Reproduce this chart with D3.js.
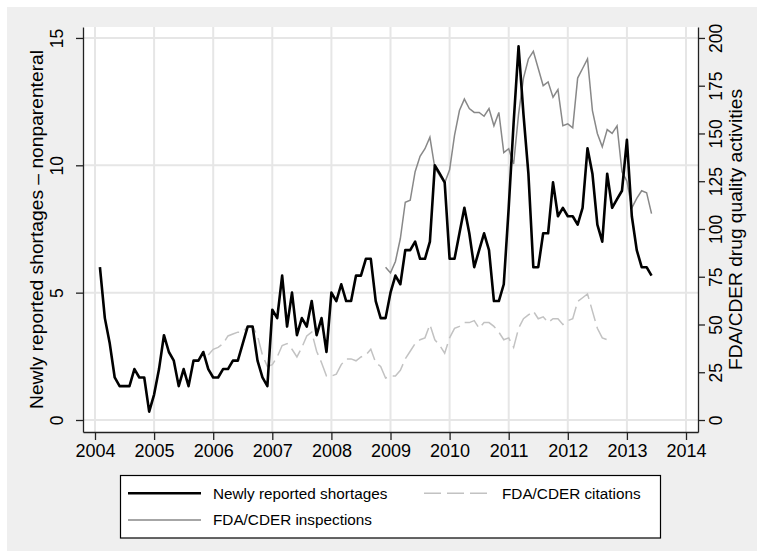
<!DOCTYPE html>
<html>
<head>
<meta charset="utf-8">
<script src="https://cdn.jsdelivr.net/npm/d3@7"></script>
<style>
  html, body { margin: 0; padding: 0; background: #ffffff; }
  svg { display: block; }
  text { font-family: "Liberation Sans", Arial, Helvetica, sans-serif; fill: #000; }
</style>
</head>
<body>
<svg id="chart" width="764" height="558"></svg>
<script>
// Monthly series; each array starts at the [year, month] given alongside it.
const shortagesStart = [2004, 2];
const shortages = [
  6.0, 4.0, 3.0, 1.67, 1.33, 1.33, 1.33, 2.0, 1.67, 1.67, 0.33,
  1.0, 2.0, 3.33, 2.67, 2.33, 1.33, 2.0, 1.33, 2.33, 2.33, 2.67, 2.0,
  1.67, 1.67, 2.0, 2.0, 2.33, 2.33, 3.0, 3.67, 3.67, 2.33, 1.67, 1.33,
  4.33, 4.0, 5.67, 3.67, 5.0, 3.33, 4.0, 3.67, 4.67, 3.33, 4.0, 2.67,
  5.0, 4.67, 5.33, 4.67, 4.67, 5.67, 5.67, 6.33, 6.33, 4.67, 4.0, 4.0,
  5.0, 5.67, 5.33, 6.67, 6.67, 7.0, 6.33, 6.33, 7.0, 10.0, 9.67, 9.33,
  6.33, 6.33, 7.33, 8.33, 7.33, 6.0, 6.67, 7.33, 6.67, 4.67, 4.67, 5.33,
  8.33, 11.67, 14.67, 12.0, 9.67, 6.0, 6.0, 7.33, 7.33, 9.33, 8.0, 8.33,
  8.0, 8.0, 7.67, 8.33, 10.67, 9.67, 7.67, 7.0, 9.67, 8.33, 8.67, 9.0,
  11.0, 8.0, 6.67, 6.0, 6.0, 5.67
];

const citationsStart = [2005, 12];
const citations = [
  34,
  37, 38, 40, 44, 45, 46, 46, 49, 49, 44, 34, 28,
  29, 33, 39, 40, 37, 33, 38, 44, 46, 36, 30, 23,
  23, 24, 29, 32, 32, 31, 33, 34, 37, 30, 28, 22,
  23, 23, 26, 32, 36, 40, 42, 43, 50, 42, 39, 35,
  43, 48, 49, 51, 51, 52, 48, 51, 51, 49, 46, 42,
  43, 38, 48, 53, 55, 57, 53, 54, 51, 53, 53, 50,
  52, 53, 62, 64, 66, 57, 48, 43, 42
];

const inspectionsStart = [2008, 12];
const inspections = [
  80,
  77, 83, 95, 114, 115, 130, 138, 142, 148, 132, 128, 124,
  131, 149, 162, 168, 163, 161, 161, 159, 163, 154, 161, 140,
  142, 134, 160, 179, 189, 193, 184, 175, 177, 169, 173, 154,
  155, 153, 179, 184, 189, 162, 150, 143, 152, 150, 154, 130,
  125, 111, 116, 120, 119, 108
];

const yearTicks = [2004, 2005, 2006, 2007, 2008, 2009, 2010, 2011, 2012, 2013, 2014];
const leftTicks = [0, 5, 10, 15];
const rightTicks = [0, 25, 50, 75, 100, 125, 150, 175, 200];

const leftTitle = "Newly reported shortages \u2013 nonparenteral";
const rightTitle = "FDA/CDER drug quality activities";
const legendLabels = ["Newly reported shortages", "FDA/CDER citations", "FDA/CDER inspections"];

// Convert a start month plus index into a decimal year.
const toSeries = (start, values) =>
  values.map((v, i) => ({ t: start[0] + (start[1] - 1 + i) / 12, v }));

const W = 764, H = 558;
const plot = { left: 83, right: 698, top: 27, bottom: 432 };

const svg = d3.select("#chart");

// Graph region (gray, inset by a thin white margin) and white plot region
svg.append("rect").attr("x", 0).attr("y", 0).attr("width", W).attr("height", H).attr("fill", "#ffffff");
svg.append("rect").attr("x", 7).attr("y", 7).attr("width", W - 14).attr("height", H - 14).attr("fill", "#efefef");
svg.append("rect")
  .attr("x", plot.left).attr("y", plot.top)
  .attr("width", plot.right - plot.left).attr("height", plot.bottom - plot.top)
  .attr("fill", "#ffffff");

const x = d3.scaleLinear().domain([2003.797, 2014.203]).range([plot.left, plot.right]);
const yL = d3.scaleLinear().domain([-0.471, 15.43]).range([plot.bottom, plot.top]);
const yR = d3.scaleLinear().domain([-0.471 * 200 / 15, 15.43 * 200 / 15]).range([plot.bottom, plot.top]);

// Grid lines
const grid = svg.append("g").attr("stroke", "#e6e6e6").attr("stroke-width", 2);
grid.selectAll("line.gx").data(yearTicks).join("line")
  .attr("x1", d => x(d)).attr("x2", d => x(d))
  .attr("y1", plot.top).attr("y2", plot.bottom);
grid.selectAll("line.gy").data(leftTicks).join("line")
  .attr("x1", plot.left).attr("x2", plot.right)
  .attr("y1", d => yL(d)).attr("y2", d => yL(d));

// Axes
const tickFont = 17.5;
const xAxis = svg.append("g").attr("transform", `translate(0,${plot.bottom})`)
  .call(d3.axisBottom(x).tickValues(yearTicks).tickFormat(d3.format("d")).tickSize(8).tickSizeOuter(0));
const lAxis = svg.append("g").attr("transform", `translate(${plot.left},0)`)
  .call(d3.axisLeft(yL).tickValues(leftTicks).tickSize(7).tickSizeOuter(0));
const rAxis = svg.append("g").attr("transform", `translate(${plot.right},0)`)
  .call(d3.axisRight(yR).tickValues(rightTicks).tickSize(7).tickSizeOuter(0));

[xAxis, lAxis, rAxis].forEach(g => {
  g.select(".domain").attr("stroke", "#222").attr("stroke-width", 1.3);
  g.selectAll(".tick line").attr("stroke", "#222").attr("stroke-width", 1.3);
  g.selectAll(".tick text").attr("font-size", tickFont).attr("font-family", "Liberation Sans, Arial, sans-serif").attr("fill", "#000");
});

xAxis.selectAll(".tick text").attr("y", 457.3 - plot.bottom).attr("dy", null).style("font-size", "18px");

// Rotated tick labels on vertical axes
lAxis.selectAll(".tick text")
  .attr("x", null).attr("dy", null).attr("y", 0)
  .attr("text-anchor", "middle")
  .attr("transform", `translate(${63.3 - plot.left},0) rotate(-90)`);
rAxis.selectAll(".tick text")
  .attr("x", null).attr("dy", null).attr("y", 0)
  .attr("text-anchor", "middle")
  .attr("transform", `translate(${722 - plot.right},0) rotate(-90)`);

// Axis titles
const midY = (plot.top + plot.bottom) / 2;
svg.append("text")
  .attr("transform", `translate(43.3,${midY}) rotate(-90)`)
  .attr("text-anchor", "middle").attr("font-size", 18)
  .attr("textLength", 359).attr("lengthAdjust", "spacingAndGlyphs")
  .text(leftTitle);
svg.append("text")
  .attr("transform", `translate(742,${midY}) rotate(-90)`)
  .attr("text-anchor", "middle").attr("font-size", 18)
  .attr("textLength", 281).attr("lengthAdjust", "spacingAndGlyphs")
  .text(rightTitle);

// Series
const lineL = d3.line().x(d => x(d.t)).y(d => yL(d.v));
const lineR = d3.line().x(d => x(d.t)).y(d => yR(d.v));

const styles = {
  shortages: { stroke: "#000000", width: 2.6, dash: null },
  inspections: { stroke: "#888888", width: 1.5, dash: null },
  citations: { stroke: "#c2c2c2", width: 1.5, dash: "17,6" }
};

svg.append("path").datum(toSeries(citationsStart, citations))
  .attr("d", lineR).attr("fill", "none")
  .attr("stroke", styles.citations.stroke).attr("stroke-width", styles.citations.width)
  .attr("stroke-dasharray", styles.citations.dash);
svg.append("path").datum(toSeries(inspectionsStart, inspections))
  .attr("d", lineR).attr("fill", "none")
  .attr("stroke", styles.inspections.stroke).attr("stroke-width", styles.inspections.width);
svg.append("path").datum(toSeries(shortagesStart, shortages))
  .attr("d", lineL).attr("fill", "none")
  .attr("stroke", styles.shortages.stroke).attr("stroke-width", styles.shortages.width)
  .attr("stroke-linejoin", "round");

// Legend
const legend = svg.append("g");
legend.append("rect").attr("x", 120.5).attr("y", 475.5).attr("width", 540).attr("height", 62.5)
  .attr("fill", "#ffffff").attr("stroke", "#000").attr("stroke-width", 1.2);

const legendItems = [
  { label: legendLabels[0], style: styles.shortages, x0: 128, x1: 201, tx: 213, y: 493.3 },
  { label: legendLabels[1], style: styles.citations, x0: 424, x1: 492, tx: 502, y: 493.3 },
  { label: legendLabels[2], style: styles.inspections, x0: 128, x1: 201, tx: 213, y: 520 }
];
const item = legend.selectAll("g.item").data(legendItems).join("g").attr("class", "item");
item.append("line")
  .attr("x1", d => d.x0).attr("x2", d => d.x1)
  .attr("y1", d => d.y).attr("y2", d => d.y)
  .attr("stroke", d => d.style.stroke).attr("stroke-width", d => d.style.width)
  .attr("stroke-dasharray", d => d.style.dash);
item.append("text")
  .attr("x", d => d.tx).attr("y", d => d.y)
  .attr("dy", "0.35em").attr("font-size", 15.3)
  .text(d => d.label);
</script>
</body>
</html>
